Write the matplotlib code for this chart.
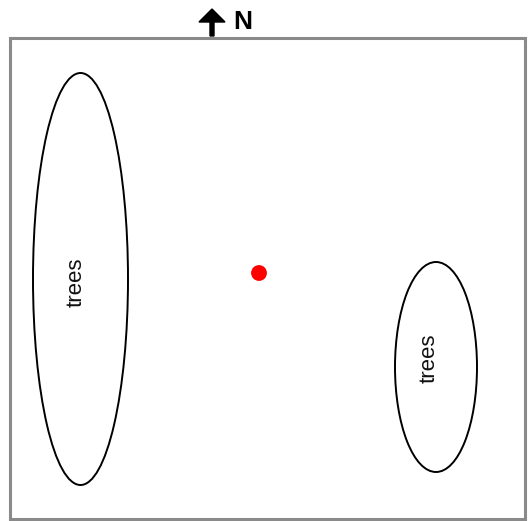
import matplotlib
matplotlib.use("Agg")
import matplotlib.pyplot as plt
from matplotlib.patches import Ellipse, Rectangle

# Map layout (pixel-like field coordinates, y downward)
field_box = [10, 38, 525, 519]            # left, top, right, bottom
tree_labels = ["trees", "trees"]
tree_cx = [80.5, 436]
tree_cy = [279, 367]
tree_w = [95, 82]
tree_h = [412, 210]
text_cx = [76, 429]
text_cy = [282, 358]
point_x = [259]
point_y = [273]
north_label = "N"

fig = plt.figure(figsize=(5.28, 5.21), dpi=100)
ax = fig.add_axes([0, 0, 1, 1])
ax.set_xlim(0, 528)
ax.set_ylim(521, 0)
ax.axis("off")

l, t, r, b = field_box
ax.add_patch(Rectangle((l, t), r - l, b - t, fill=False, edgecolor="#8a8a8a", linewidth=2.2))

for lab, cx, cy, w, h, tx, ty in zip(tree_labels, tree_cx, tree_cy, tree_w, tree_h, text_cx, text_cy):
    ax.add_patch(Ellipse((cx, cy), w, h, fill=False, edgecolor="black", linewidth=1.4))
    ax.text(tx, ty, lab, rotation=90, ha="center", va="center", fontsize=16,
            family="Liberation Sans", color="#111111")

ax.scatter(point_x, point_y, s=130, color="red", zorder=5, edgecolors="none")

# North arrow
ax.arrow(212, 36, 0, -14, width=4, head_width=26, head_length=13, color="black",
         length_includes_head=False)
ax.text(243, 22, north_label, ha="center", va="center", fontsize=19, fontweight="bold",
        family="Liberation Sans")

fig.savefig("out.png", dpi=100)
